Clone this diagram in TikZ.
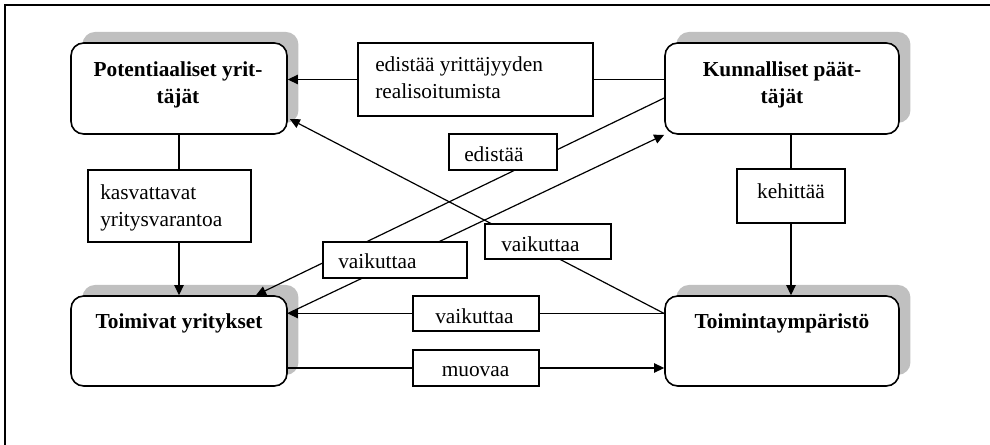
\documentclass[tikz,border=0pt]{standalone}
\usepackage{fontspec}
\setmainfont{Liberation Serif}
\usetikzlibrary{arrows.meta,shadows,calc}
\pgfdeclarelayer{fg}
\pgfsetlayers{main,fg}
\definecolor{shadowgray}{HTML}{C0C0C0}
\begin{document}
\begin{tikzpicture}[x=0.75pt,y=-0.75pt,
  mainbox/.style={draw=black, line width=1.2pt, rounded corners=9.5pt, fill=white, inner sep=0pt,
    drop shadow={shadow xshift=8.6pt, shadow yshift=8.3pt, fill=shadowgray, opacity=1}},
  labelbox/.style={draw=black, line width=0.9pt, fill=white, inner sep=0pt},
  boldtxt/.style={font=\fontsize{16}{20}\selectfont\bfseries, inner sep=0pt, anchor=base},
  plaintxt/.style={font=\fontsize{16}{20}\selectfont, inner sep=0pt, anchor=base west},
  plainc/.style={font=\fontsize{16}{20}\selectfont, inner sep=0pt, anchor=base},
  conn/.style={line width=0.9pt},
  arr/.style={conn, -{Triangle[length=7.5pt,width=7pt]}}]
\useasboundingbox (0,0) rectangle (990,445);
% frame
\coordinate (fTL) at (5,5);
\coordinate (fTR) at (990,5);
\coordinate (fBL) at (5,445);
\draw[line width=1.2pt] (fTR) -- (fTL) -- (fBL);
% main boxes
\node[mainbox, minimum width=162pt, minimum height=68.25pt] (P) at (179,88.5) {};
\node[mainbox, minimum width=175.5pt, minimum height=68.25pt] (K) at (782,88.5) {};
\node[mainbox, minimum width=162pt, minimum height=67.5pt] (T) at (179,341) {};
\node[mainbox, minimum width=175.5pt, minimum height=67.5pt] (Ti) at (782,341) {};
\node[boldtxt] (Pt1) at (178,77) {Potentiaaliset yrit-};
\node[boldtxt] (Pt2) at (178,104) {täjät};
\node[boldtxt] (Kt1) at (782,77) {Kunnalliset päät-};
\node[boldtxt] (Kt2) at (782,104) {täjät};
\node[boldtxt] (Tt) at (179,329) {Toimivat yritykset};
\node[boldtxt] (Tit) at (782,329) {Toimintaympäristö};
% label boxes (foreground)
\begin{pgfonlayer}{fg}
\node[labelbox, minimum width=176.25pt, minimum height=54.75pt] (E1) at (475.5,79.5) {};
\node[labelbox, minimum width=122.25pt, minimum height=54pt] (Kas) at (169.5,206) {};
\node[labelbox, minimum width=81pt, minimum height=40.5pt] (Keh) at (791,196) {};
\node[labelbox, minimum width=81pt, minimum height=27pt] (Ed2) at (503,152) {};
\node[labelbox, minimum width=108pt, minimum height=27pt] (V1) at (395,260) {};
\node[labelbox, minimum width=94.5pt, minimum height=26.25pt] (V2) at (548,241.5) {};
\node[labelbox, minimum width=94.5pt, minimum height=26.25pt] (V3) at (476,313.5) {};
\node[labelbox, minimum width=94.5pt, minimum height=27pt] (M) at (476,368) {};
\node[plaintxt] (E1t1) at (375,71.5) {edistää yrittäjyyden};
\node[plaintxt] (E1t2) at (375,99) {realisoitumista};
\node[plaintxt] (Kast1) at (100,200) {kasvattavat};
\node[plaintxt] (Kast2) at (100,227) {yritysvarantoa};
\node[plainc] (Keht) at (791,199) {kehittää};
\node[plaintxt] (Ed2t) at (464,161.5) {edistää};
\node[plaintxt] (V1t) at (338,269) {vaikuttaa};
\node[plaintxt] (V2t) at (501,251.5) {vaikuttaa};
\node[plaintxt] (V3t) at (435,323.3) {vaikuttaa};
\node[plaintxt] (Mt) at (441.5,377) {muovaa};
\end{pgfonlayer}
% connectors
\draw[conn] (K.west |- E1.center) -- (E1.east);
\draw[arr] (E1.west) -- (P.east |- E1.center);
\draw[conn] (P.south) -- (P.south |- Kas.north);
\draw[arr] (P.south |- Kas.south) -- (T.north);
\draw[conn] (Keh.north |- K.south) -- (Keh.north);
\draw[arr] (Keh.south) -- (Keh.south |- Ti.north);
\draw[conn] (Ti.west |- V3.center) -- (V3.east);
\draw[arr] (V3.west) -- (T.east |- V3.center);
\draw[conn] (T.east |- M.center) -- (M.west);
\draw[arr] (M.east) -- (Ti.west |- M.center);
\draw[arr] ($(K.west)+(0,9.5)$) -- ($(T.north)+(77,0)$);
\draw[arr] (T.east |- V3.center) -- (K.south west);
\draw[arr] (Ti.west |- V3.center) -- ($(P.east)+(2,30.5)$);
\end{tikzpicture}
\end{document}
